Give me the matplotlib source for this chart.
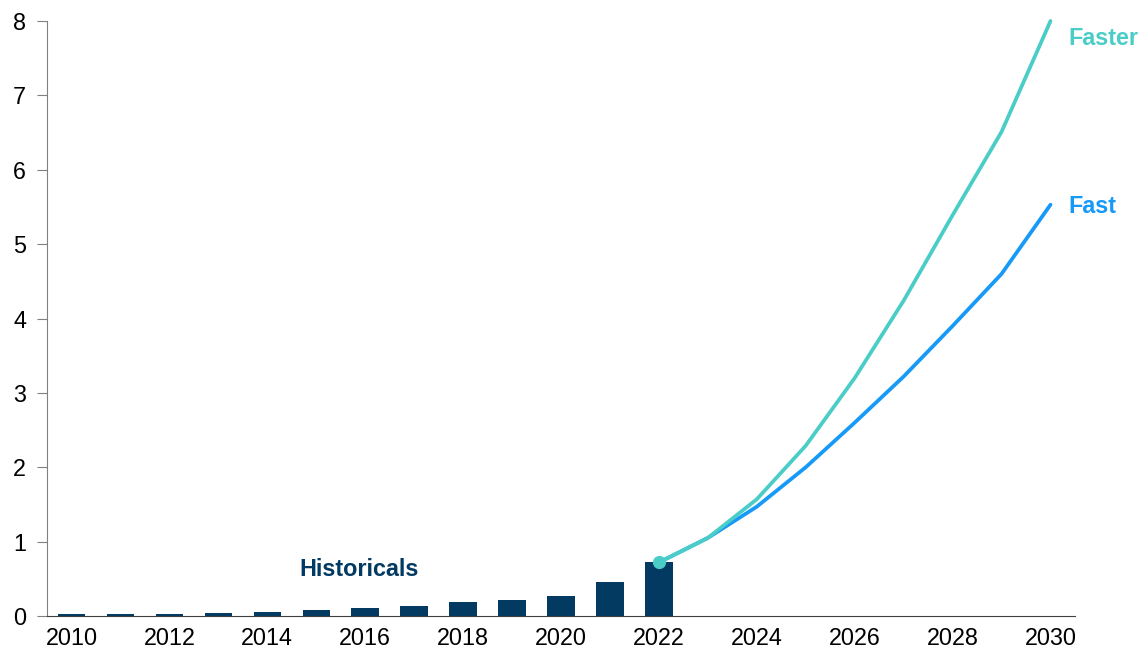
import numpy as np
import matplotlib.pyplot as plt

plt.rcParams['font.family'] = ['Liberation Sans', 'DejaVu Sans']

hist_years = list(range(2010, 2023))
hist_vals = [0.03, 0.03, 0.03, 0.04, 0.05, 0.08, 0.11, 0.13, 0.19, 0.21, 0.27, 0.46, 0.72]

proj_years = list(range(2022, 2031))
fast_vals = [0.72, 1.05, 1.47, 2.0, 2.6, 3.22, 3.9, 4.6, 5.53]
faster_vals = [0.72, 1.05, 1.57, 2.29, 3.2, 4.24, 5.39, 6.51, 8.0]

navy = '#023A62'
blue = '#1799F8'
teal = '#4BCDC7'

fig = plt.figure(figsize=(11.43, 6.52), dpi=100)
ax = fig.add_axes([0.0411, 0.0552, 0.8994, 0.9126])

ax.bar(hist_years, hist_vals, width=0.56, color=navy, zorder=2)
ax.plot(proj_years, fast_vals, color=blue, lw=2.7, solid_capstyle='round', zorder=3, clip_on=False)
ax.plot(proj_years, faster_vals, color=teal, lw=2.7, solid_capstyle='round', zorder=4, clip_on=False)
ax.plot(proj_years[0], faster_vals[0], 'o', color=teal, ms=8.5, zorder=5)

ax.text(2030.37, 7.77, 'Faster', color=teal, fontsize=16.8, fontweight='bold', va='center', ha='left')
ax.text(2030.37, 5.5, 'Fast', color=blue, fontsize=16.8, fontweight='bold', va='center', ha='left')
ax.text(2014.65, 0.62, 'Historicals', color=navy, fontsize=16.8, fontweight='bold', va='center', ha='left')

ax.set_xlim(2009.5, 2030.5)
ax.set_ylim(0, 8)
ax.set_xticks(range(2010, 2031, 2))
ax.set_yticks(range(0, 9))

for s in ['top', 'right']:
    ax.spines[s].set_visible(False)
ax.spines['left'].set_color('#808080')
ax.spines['bottom'].set_color('#404040')
ax.tick_params(axis='y', length=7, color='#808080', labelsize=16.8, pad=8)
ax.tick_params(axis='x', length=0, labelsize=16.8, pad=8)

fig.savefig('out.png', dpi=100)
